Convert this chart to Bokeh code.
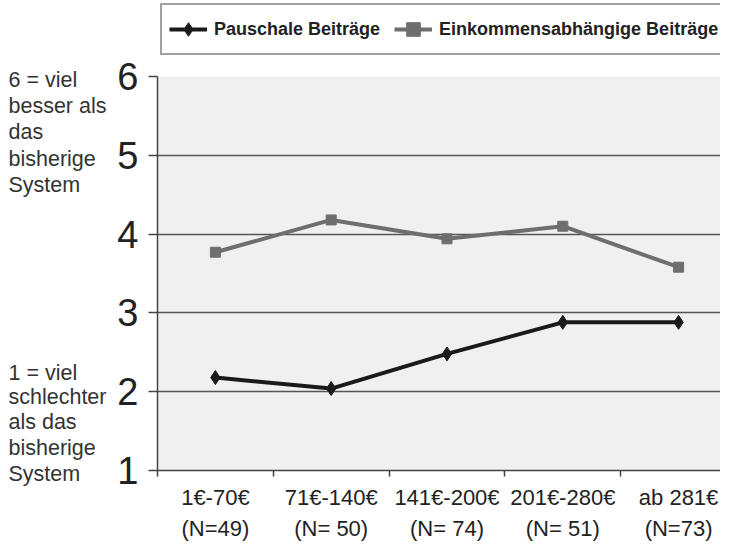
from bokeh.plotting import figure
from bokeh.layouts import column, row
from bokeh.models import Range1d, FixedTicker, Legend, LegendItem
from bokeh.core.properties import value
from bokeh.embed import file_html
from bokeh.resources import INLINE

categories = ["1€-70€", "71€-140€", "141€-200€", "201€-280€", "ab 281€"]
counts = ["(N=49)", "(N= 50)", "(N= 74)", "(N= 51)", "(N=73)"]
pauschale = [2.18, 2.04, 2.48, 2.88, 2.88]
einkommen = [3.77, 4.18, 3.94, 4.10, 3.58]
y_ticks = [1, 2, 3, 4, 5, 6]
series_names = ["Pauschale Beiträge", "Einkommensabhängige Beiträge"]
note_lines = ["6 = viel", "besser als", "das", "bisherige", "System",
              "1 = viel", "schlechter", "als das", "bisherige", "System"]
note_levels = [5.96, 5.63, 5.29, 4.95, 4.62,
               2.24, 1.93, 1.61, 1.28, 0.96]

FONT = "Liberation Sans"
BLACK = "#1a1a1a"
GREY = "#6e6e6e"
AX = "#444444"
x = [i + 0.5 for i in range(len(categories))]
bounds = list(range(len(categories) + 1))

# ---------------- main chart ----------------
p = figure(frame_width=563, frame_height=394,
           min_border_left=45, min_border_right=0,
           min_border_top=20, min_border_bottom=70,
           x_range=Range1d(0, 4.862), y_range=Range1d(1, 6),
           output_backend="svg", toolbar_location=None)
p.background_fill_color = "#f0f0f0"
p.border_fill_color = "white"
p.outline_line_color = None

p.xaxis.ticker = FixedTicker(ticks=x, minor_ticks=bounds)
p.xaxis.major_label_overrides = {xi: f"{c}\n{n}" for xi, c, n in zip(x, categories, counts)}
p.xaxis.major_tick_out = 0
p.xaxis.major_tick_in = 0
p.xaxis.minor_tick_out = 6
p.xaxis.minor_tick_in = 0
p.xaxis.minor_tick_line_color = AX
p.xaxis.minor_tick_line_width = 1.5
p.xaxis.axis_line_color = AX
p.xaxis.axis_line_width = 1.5
p.xaxis.major_label_text_font = FONT
p.xaxis.major_label_text_font_size = "22px"
p.xaxis.major_label_text_color = "#222222"
p.xaxis.major_label_text_line_height = 1.27
p.xaxis.major_label_standoff = 8
p.xgrid.visible = False

p.yaxis.ticker = FixedTicker(ticks=y_ticks, minor_ticks=[])
p.yaxis.major_tick_out = 9
p.yaxis.major_tick_in = 0
p.yaxis.major_tick_line_color = AX
p.yaxis.major_tick_line_width = 1.5
p.yaxis.axis_line_color = AX
p.yaxis.axis_line_width = 1.5
p.yaxis.major_label_text_font = FONT
p.yaxis.major_label_text_font_size = "38px"
p.yaxis.major_label_text_color = "#222222"
p.yaxis.major_label_standoff = 10
p.ygrid.grid_line_color = "#555555"
p.ygrid.grid_line_width = 1.5

p.line(x, pauschale, line_color=BLACK, line_width=4)
p.scatter(x, pauschale, marker="diamond", size=14, color=BLACK)
p.line(x, einkommen, line_color=GREY, line_width=4)
p.scatter(x, einkommen, marker="square", size=10, color=GREY)

# ---------------- legend strip on top ----------------
top = figure(frame_width=608, frame_height=56, min_border=0,
             min_border_left=0, min_border_right=0, min_border_top=0, min_border_bottom=0,
             x_axis_location=None, y_axis_location=None,
             x_range=Range1d(0, 1), y_range=Range1d(100, 101),
             output_backend="svg", toolbar_location=None)
top.grid.visible = False
top.outline_line_color = None
top.background_fill_color = "white"
l1 = top.line(x, pauschale, line_color=BLACK, line_width=4)
m1 = top.scatter(x, pauschale, marker="diamond", size=14, color=BLACK)
l2 = top.line(x, einkommen, line_color=GREY, line_width=4)
m2 = top.scatter(x, einkommen, marker="square", size=10, color=GREY)
legend = Legend(items=[LegendItem(label=series_names[0], renderers=[l1, m1]),
                       LegendItem(label=series_names[1], renderers=[l2, m2])],
                orientation="horizontal", location=(48, 1),
                glyph_width=38, glyph_height=34, label_height=34,
                label_standoff=7, spacing=14, padding=7, margin=0,
                label_text_font=FONT, label_text_font_size="18px",
                label_text_font_style="bold", label_text_color="#222222",
                border_line_color=AX, border_line_width=2,
                background_fill_color="white", background_fill_alpha=1)
top.add_layout(legend)

# ---------------- side notes (same value scale as the y axis) ----------------
side = figure(frame_width=112, frame_height=540, min_border=0,
              min_border_left=0, min_border_right=0, min_border_top=0, min_border_bottom=0,
              x_axis_location=None, y_axis_location=None,
              x_range=Range1d(0, 112), y_range=Range1d(0.1117, 6.9645),
              output_backend="svg", toolbar_location=None)
side.grid.visible = False
side.outline_line_color = None
side.background_fill_color = "white"
side.text(x=[8] * len(note_lines), y=note_levels, text=note_lines,
          text_align="left", text_baseline="middle",
          text_font=value(FONT), text_font_size="21.5px",
          text_color="#333333")

layout = row(side, column(top, p))
open("out.html", "w").write(file_html(layout, INLINE))
